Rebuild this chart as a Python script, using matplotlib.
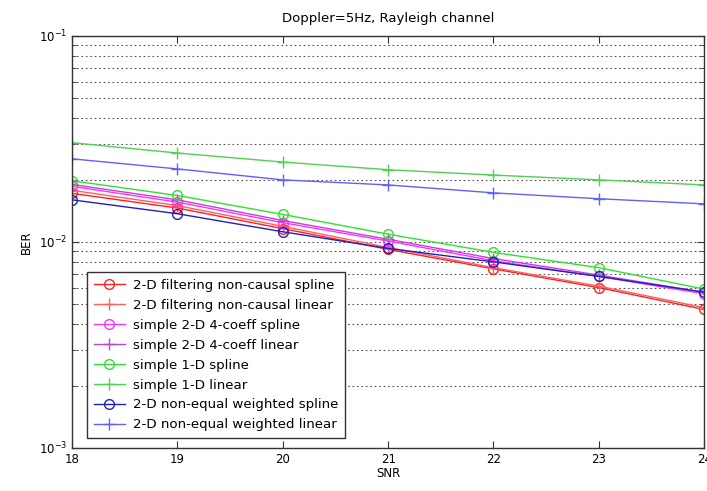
import matplotlib
matplotlib.use("Agg")
import matplotlib.pyplot as plt
from matplotlib.ticker import LogLocator, FixedLocator, NullFormatter

snr = [18, 19, 20, 21, 22, 23, 24]

labels = [
    "2-D filtering non-causal spline",
    "2-D filtering non-causal linear",
    "simple 2-D 4-coeff spline",
    "simple 2-D 4-coeff linear",
    "simple 1-D spline",
    "simple 1-D linear",
    "2-D non-equal weighted spline",
    "2-D non-equal weighted linear",
]

ber_2d_nc_spline = [0.0172, 0.0146, 0.0116, 0.0092, 0.0074, 0.0060, 0.0047]
ber_2d_nc_linear = [0.0178, 0.0150, 0.0119, 0.0094, 0.0075, 0.0061, 0.0048]
ber_4c_spline = [0.0186, 0.0156, 0.0124, 0.0101, 0.0081, 0.0068, 0.0056]
ber_4c_linear = [0.0190, 0.0160, 0.0127, 0.0103, 0.0083, 0.0069, 0.0057]
ber_1d_spline = [0.0198, 0.0168, 0.0136, 0.0109, 0.0089, 0.0075, 0.0059]
ber_1d_linear = [0.0303, 0.0270, 0.0244, 0.0224, 0.0211, 0.0200, 0.0189]
ber_ne_spline = [0.0160, 0.0137, 0.0112, 0.0093, 0.0080, 0.0068, 0.0057]
ber_ne_linear = [0.0253, 0.0226, 0.0200, 0.0189, 0.0173, 0.0162, 0.0153]

series = [ber_2d_nc_spline, ber_2d_nc_linear, ber_4c_spline, ber_4c_linear,
          ber_1d_spline, ber_1d_linear, ber_ne_spline, ber_ne_linear]
colors = ["#ff2020", "#ff6060", "#ff30ff", "#c040e0",
          "#30e030", "#50d050", "#2020c0", "#6060ff"]
markers = ["o", "+", "o", "+", "o", "+", "o", "+"]

plt.rcParams["font.family"] = ["DejaVu Sans"]

fig = plt.figure(figsize=(7.07, 4.91), dpi=100)
ax = fig.add_axes([0.102, 0.0876, 0.894, 0.8394])

for y, c, m, lab in zip(series, colors, markers, labels):
    ax.semilogy(snr, y, color=c, marker=m, markersize=7 if m == "o" else 8,
                markerfacecolor="none", markeredgewidth=1.0, linewidth=1.0,
                label=lab)

ax.set_xlim(18, 24)
ax.set_ylim(1e-3, 1e-1)
ax.xaxis.set_major_locator(FixedLocator(snr))
ax.yaxis.set_major_locator(LogLocator(base=10, numticks=5))
ax.yaxis.set_minor_locator(LogLocator(base=10, subs=range(2, 10), numticks=20))
ax.yaxis.set_minor_formatter(NullFormatter())

ax.grid(True, axis="y", which="both", linestyle=(0, (1.5, 2.5)),
        color="#555555", linewidth=0.8)
ax.grid(False, axis="x")

ax.tick_params(axis="both", which="both", direction="in", top=True,
               right=True, labelsize=8.5, color="#333333")
ax.tick_params(which="major", length=5)
ax.tick_params(which="minor", length=3)
for s in ax.spines.values():
    s.set_color("#333333")
    s.set_linewidth(1.0)

ax.set_title("Doppler=5Hz, Rayleigh channel", fontsize=9.5, pad=10)
ax.set_xlabel("SNR", fontsize=8.5, labelpad=1)
ax.set_ylabel("BER", fontsize=8.5, labelpad=4)

leg = ax.legend(loc="lower left", bbox_to_anchor=(0.024, 0.024),
                borderaxespad=0.0, fontsize=9.6,
                labelspacing=0.52, handlelength=2.3, handletextpad=0.6,
                borderpad=0.5, fancybox=False, framealpha=1.0,
                edgecolor="#333333")
leg.get_frame().set_linewidth(1.0)

fig.savefig("out.png", dpi=100)
